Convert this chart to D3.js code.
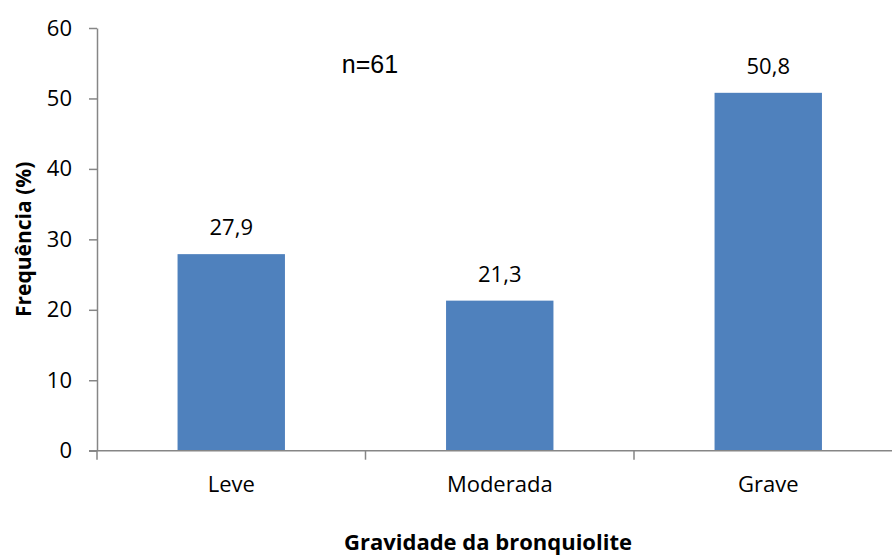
<!DOCTYPE html>
<html>
<head>
<meta charset="utf-8">
<script src="https://cdn.jsdelivr.net/npm/d3@7"></script>
<style>
  body { margin: 0; background: #fff; }
  text { font-family: "Open Sans", Lato, sans-serif; fill: #000; }
</style>
</head>
<body>
<div id="chart"></div>
<script>
const categories = ['Leve', 'Moderada', 'Grave'];
const values = [27.9, 21.3, 50.8];
const yTicks = [0, 10, 20, 30, 40, 50, 60];

const width = 892, height = 556;
const svg = d3.select('#chart').append('svg')
  .attr('width', width)
  .attr('height', height);

const x = d3.scaleBand()
  .domain(categories)
  .range([97, 902.5])
  .paddingInner(0.6)
  .paddingOuter(0.3);

const y = d3.scaleLinear().domain([0, 60]).range([450.7, 28]);

// y axis
const yAxis = svg.append('g')
  .attr('transform', 'translate(97,0)')
  .call(d3.axisLeft(y).tickValues(yTicks).tickSize(8).tickPadding(17).tickSizeOuter(0));
yAxis.select('.domain').attr('stroke', '#868686').attr('stroke-width', 1.5);
yAxis.selectAll('.tick line').attr('stroke', '#868686').attr('stroke-width', 1.5);
yAxis.selectAll('.tick text').attr('font-size', 22).attr('font-family', '"Open Sans"').attr('fill', '#000');

// bars
svg.selectAll('.bar')
  .data(values)
  .enter()
  .append('rect')
  .attr('class', 'bar')
  .attr('x', (d, i) => x(categories[i]))
  .attr('y', d => y(d))
  .attr('width', x.bandwidth())
  .attr('height', d => y(0) - y(d))
  .attr('fill', '#4F81BD');

// x axis
const xAxis = svg.append('g')
  .attr('transform', `translate(0,${y(0)})`);
xAxis.append('line')
  .attr('x1', 89).attr('x2', width)
  .attr('stroke', '#868686').attr('stroke-width', 1.5);
const bounds = [0, 1, 2, 3].map(i => 97 + i * x.step());
xAxis.selectAll('.xtick')
  .data(bounds)
  .enter()
  .append('line')
  .attr('x1', d => d).attr('x2', d => d)
  .attr('y1', 0).attr('y2', 9)
  .attr('stroke', '#868686').attr('stroke-width', 1.5);
xAxis.selectAll('.xlabel')
  .data(categories)
  .enter()
  .append('text')
  .attr('x', d => x(d) + x.bandwidth() / 2)
  .attr('y', 41)
  .attr('text-anchor', 'middle')
  .attr('font-size', 22)
  .text(d => d);

// value labels
svg.selectAll('.val')
  .data(values)
  .enter()
  .append('text')
  .attr('x', (d, i) => x(categories[i]) + x.bandwidth() / 2)
  .attr('y', d => y(d) - 19)
  .attr('text-anchor', 'middle')
  .attr('font-size', 22)
  .text(d => d.toFixed(1).replace('.', ','));

// axis titles
svg.append('text')
  .attr('transform', `translate(31,${(y(0) + y(60)) / 2}) rotate(-90)`)
  .attr('text-anchor', 'middle')
  .attr('font-size', 21)
  .attr('font-weight', 'bold')
  .text('Frequência (%)');

svg.append('text')
  .attr('x', 488)
  .attr('y', 550)
  .attr('text-anchor', 'middle')
  .attr('font-size', 22)
  .attr('font-weight', 'bold')
  .text('Gravidade da bronquiolite');

// sample size
svg.append('text')
  .attr('x', 370)
  .attr('y', 73)
  .attr('text-anchor', 'middle')
  .attr('font-size', 25)
  .style('font-family', '"Liberation Sans", Arial, sans-serif')
  .text('n=61');
</script>
</body>
</html>
